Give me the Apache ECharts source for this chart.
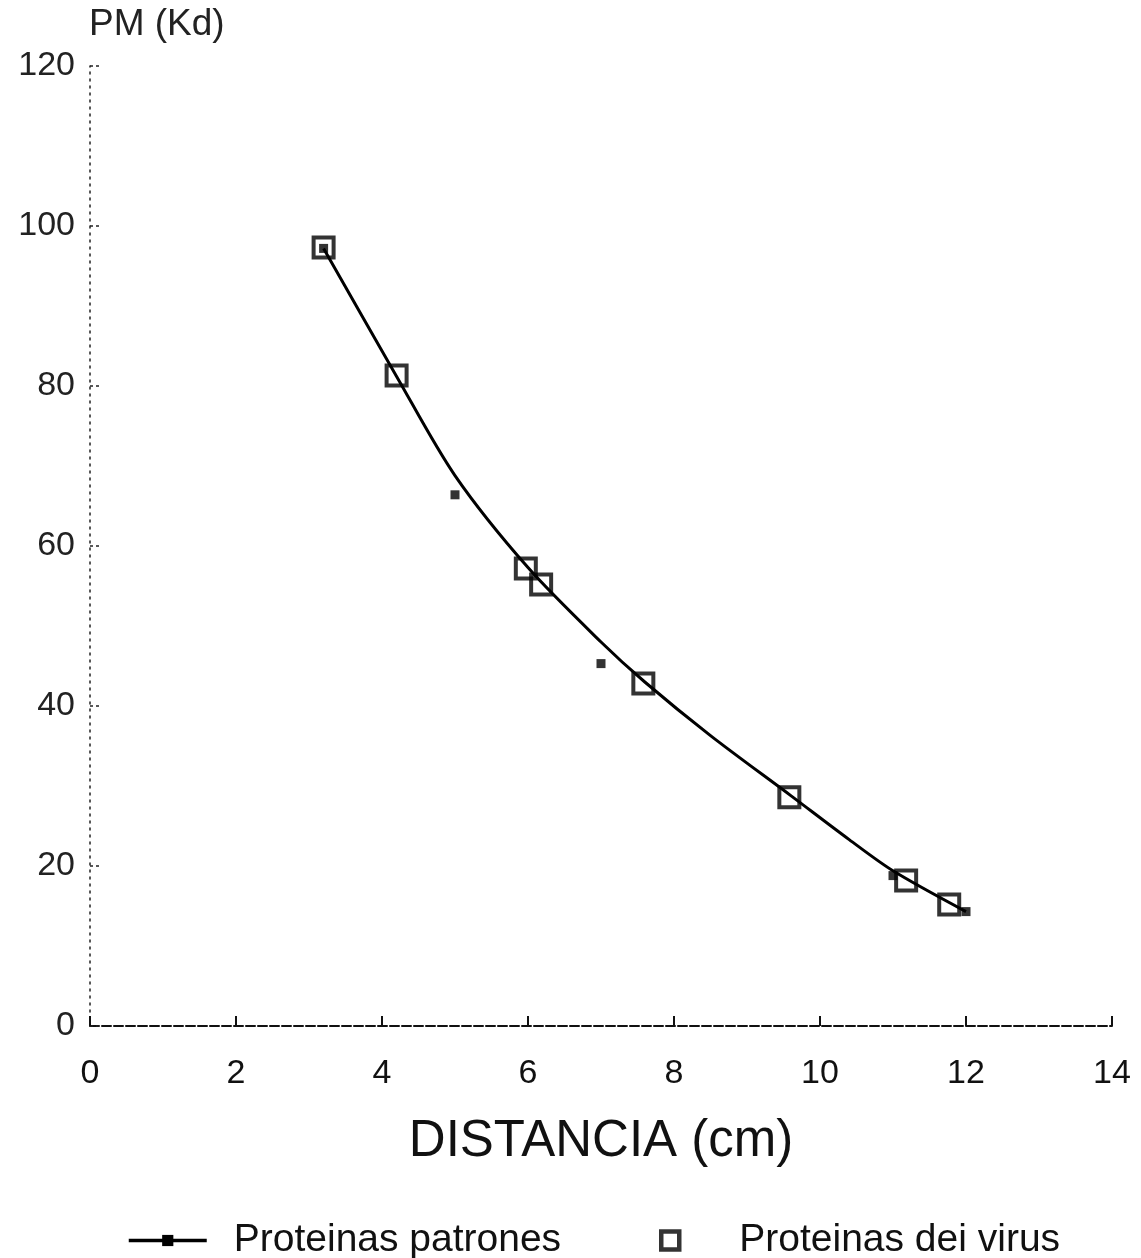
<!DOCTYPE html>
<html>
<head>
<meta charset="utf-8">
<script src="https://cdn.jsdelivr.net/npm/echarts@6/dist/echarts.min.js"></script>
<style>
  html, body { margin: 0; padding: 0; background: #fff; }
  #chart { width: 1141px; height: 1258px; }
</style>
</head>
<body>
<div id="chart"></div>
<script>
// Calibration curve: molecular weight (kDa) vs. migration distance (cm)
const curveDist = [3.2, 4.2, 5.0, 6.0, 7.0, 7.6, 8.5, 9.6, 10.4, 11.0, 12.0];
const curvePM   = [97.2, 81.2, 68.8, 57.3, 48.0, 43.0, 36.3, 28.8, 23.3, 19.4, 14.3];

// Standard (marker) proteins
const stdDist = [3.2, 5.0, 7.0, 11.0, 12.0];
const stdPM   = [97.2, 66.4, 45.3, 18.8, 14.3];

// Virus proteins
const virDist = [3.2, 4.2, 5.97, 6.18, 7.58, 9.58, 11.18, 11.77];
const virPM   = [97.3, 81.3, 57.2, 55.2, 42.8, 28.6, 18.2, 15.2];

const xTicks = [0, 2, 4, 6, 8, 10, 12, 14];
const yTicks = [0, 20, 40, 60, 80, 100, 120];

const zip = (a, b) => a.map((v, i) => [v, b[i]]);
const FONT = "'Liberation Sans', Arial, sans-serif";

const chart = echarts.init(document.getElementById('chart'), null, { renderer: 'canvas' });
chart.setOption({
  backgroundColor: '#fff',
  animation: false,
  grid: { left: 90, right: 29, top: 66, bottom: 232, containLabel: false },
  xAxis: {
    type: 'value', min: xTicks[0], max: xTicks[xTicks.length - 1], interval: 2,
    name: 'DISTANCIA (cm)', nameLocation: 'middle', nameGap: 90,
    nameTextStyle: { fontFamily: FONT, fontSize: 51, color: '#111' },
    axisLine: { lineStyle: { color: '#111', width: 2, type: [9, 3] } },
    axisTick: { inside: true, length: 10, lineStyle: { color: '#111', width: 2 } },
    axisLabel: { fontFamily: FONT, fontSize: 34, color: '#111', margin: 31 },
    splitLine: { show: false }
  },
  yAxis: {
    type: 'value', min: yTicks[0], max: yTicks[yTicks.length - 1], interval: 20,
    axisLine: { show: true, lineStyle: { color: '#222', width: 1.5, type: [2, 5] } },
    axisTick: { inside: true, length: 12, lineStyle: { color: '#222', width: 1.5, type: [3, 3] } },
    axisLabel: { fontFamily: FONT, fontSize: 34, color: '#222', margin: 15 },
    splitLine: { show: false }
  },
  graphic: [
    { type: 'text', left: 89, top: 6,
      style: { text: 'PM (Kd)', font: '37px ' + FONT, fill: '#222' } }
  ],
  legend: [
    {
      top: 1216, left: 122, itemWidth: 78, itemHeight: 14,
      lineStyle: { width: 3.5, color: '#000' },
      textStyle: { fontFamily: FONT, fontSize: 39, color: '#111', padding: [0, 0, 0, 22] },
      data: [{ name: 'Proteinas patrones' }]
    },
    {
      top: 1216, left: 654, itemWidth: 18, itemHeight: 18,
      textStyle: { fontFamily: FONT, fontSize: 39, color: '#111', padding: [0, 0, 0, 55] },
      data: [{ name: 'Proteinas dei virus', icon: 'rect',
               itemStyle: { color: '#fff', borderColor: '#000', borderWidth: 4.5 } }]
    }
  ],
  series: [
    {
      name: 'Proteinas patrones', type: 'line', smooth: 0.3,
      data: zip(curveDist, curvePM),
      symbol: 'rect', symbolSize: 8, showSymbol: false,
      lineStyle: { color: '#000', width: 3 },
      itemStyle: { color: '#000' }, z: 2
    },
    {
      name: 'Proteinas patrones', type: 'scatter',
      data: zip(stdDist, stdPM),
      symbol: 'rect', symbolSize: 9,
      itemStyle: { color: '#000' }, z: 4
    },
    {
      name: 'Proteinas dei virus', type: 'scatter',
      data: zip(virDist, virPM),
      symbol: 'rect', symbolSize: 20,
      itemStyle: { color: 'rgba(255,255,255,0)', borderColor: '#000', borderWidth: 4 }, z: 3
    }
  ]
});
</script>
</body>
</html>
